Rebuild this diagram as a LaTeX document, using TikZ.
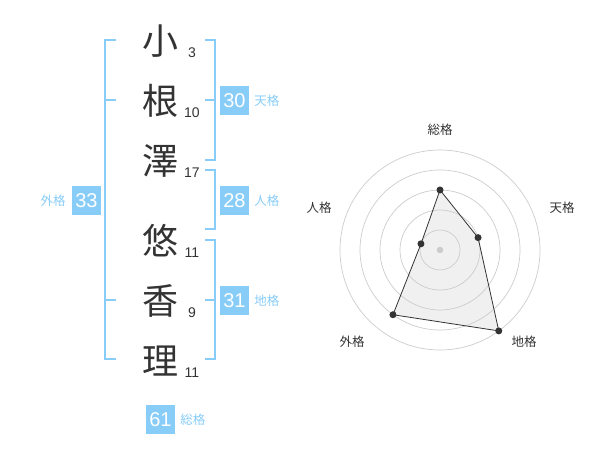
\documentclass[tikz,border=0pt]{standalone}
\usepackage{fontspec}
\setmainfont{Liberation Sans}
\newfontfamily\jpfont{Noto Sans CJK JP}
\usetikzlibrary{positioning}
\definecolor{skyb}{RGB}{136,204,248}
\definecolor{ink}{RGB}{51,51,51}
\tikzset{
  kanji/.style={font=\jpfont\fontsize{36}{36}\selectfont,text=ink,inner sep=0pt},
  kakusu/.style={font=\fontsize{14}{14}\selectfont,text=ink,inner sep=0pt},
  badge/.style={fill=skyb,text=white,minimum size=29pt,inner sep=0pt,font=\fontsize{20}{20}\selectfont},
  kakuname/.style={text=skyb,font=\jpfont\fontsize{12.5}{12.5}\selectfont,inner sep=0pt},
  brk/.style={draw=skyb,line width=2pt},
  ring/.style={draw=black!20,line width=0.7pt},
  radlab/.style={text=ink,font=\jpfont\fontsize{12.5}{12.5}\selectfont,inner sep=0pt},
  dot/.style={circle,fill=ink,inner sep=0pt,minimum size=7pt},
}
\begin{document}
\begin{tikzpicture}[x=1pt,y=-1pt]
\useasboundingbox (0,0) rectangle (600,470);
% name
\node[kanji] (k1) at (160,41) {小};
\node[kanji] (k2) at (160,101) {根};
\node[kanji] (k3) at (160,161) {澤};
\node[kanji] (k4) at (160,241) {悠};
\node[kanji] (k5) at (160,301) {香};
\node[kanji] (k6) at (160,361) {理};
\node[kakusu] (s1) at (192,52.5) {3};
\node[kakusu] (s2) at (192,113) {10};
\node[kakusu] (s3) at (192,172.5) {17};
\node[kakusu] (s4) at (192,252.5) {11};
\node[kakusu] (s5) at (192,312.5) {9};
\node[kakusu] (s6) at (192,372.5) {11};
% brackets
\draw[brk] (116,40) -- ++(-11,0) -- ++(0,319) -- ++(11,0);
\draw[brk] (105,100) -- ++(11,0);
\draw[brk] (105,300) -- ++(11,0);
\draw[brk] (205,40) -- ++(10,0) -- ++(0,120) -- ++(-10,0);
\draw[brk] (205,100) -- ++(10,0);
\draw[brk] (205,170) -- ++(10,0) -- ++(0,59) -- ++(-10,0);
\draw[brk] (205,240) -- ++(10,0) -- ++(0,119) -- ++(-10,0);
\draw[brk] (205,300) -- ++(10,0);
% badges
\node[badge] (ten) at (234.5,100.5) {30};
\node[kakuname,right=5pt of ten] (tenl) {天格};
\node[badge] (jin) at (234.5,200.5) {28};
\node[kakuname,right=5pt of jin] (jinl) {人格};
\node[badge] (chi) at (234.5,300.5) {31};
\node[kakuname,right=5pt of chi] (chil) {地格};
\node[badge] (gai) at (86.5,200.5) {33};
\node[kakuname,left=6pt of gai] (gail) {外格};
\node[badge] (sou) at (160.5,419.5) {61};
\node[kakuname,right=5pt of sou] (soul) {総格};
% radar
\coordinate (o) at (440,250);
\coordinate (rsou) at ([shift={(-90:60)}]o);
\coordinate (rten) at ([shift={(-18:40)}]o);
\coordinate (rchi) at ([shift={(54:100)}]o);
\coordinate (rgai) at ([shift={(126:80)}]o);
\coordinate (rjin) at ([shift={(198:20)}]o);
\fill[black!6] (rsou) -- (rten) -- (rchi) -- (rgai) -- (rjin) -- cycle;
\foreach \r in {20,40,60,80,100}
  \draw[ring] (o) circle[radius=\r];
\fill[black!20] (o) circle[radius=3.3];
\draw[ink,line width=0.8pt]
(rsou) -- (rten) -- (rchi) -- (rgai) -- (rjin) -- cycle;
\foreach \p in {rsou,rten,rchi,rgai,rjin}
  \node[dot] at (\p) {};
\node[radlab] (lsou) at (440,130) {総格};
\node[radlab] (lten) at (562,208) {天格};
\node[radlab] (lchi) at (524,342) {地格};
\node[radlab] (lgai) at (352,342) {外格};
\node[radlab] (ljin) at (319,208) {人格};
\end{tikzpicture}
\end{document}
